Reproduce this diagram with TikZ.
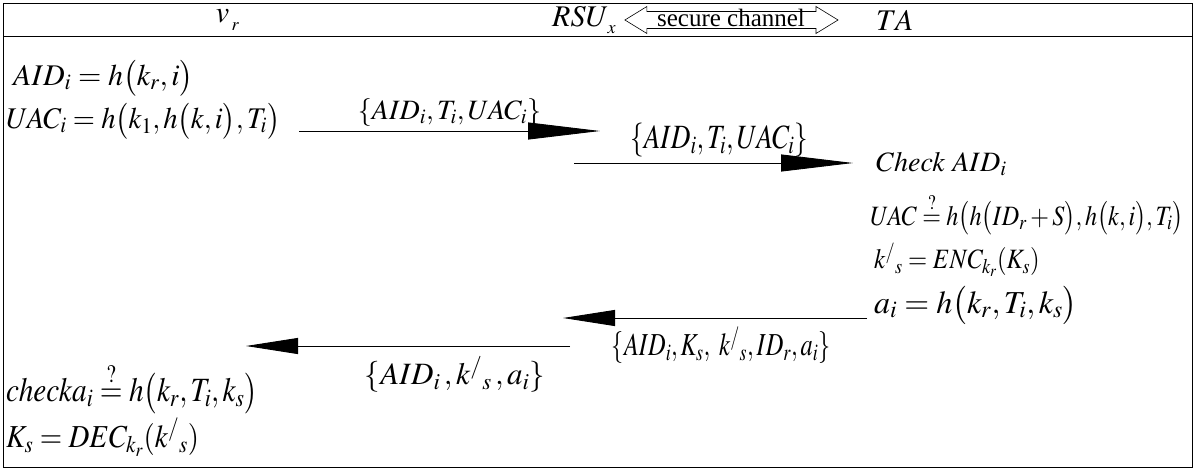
\documentclass[tikz,border=0pt]{standalone}
\usepackage{amsmath}
\usepackage{mathptmx}
\usepackage{fontspec}
\setmainfont{Liberation Serif}
\usetikzlibrary{arrows.meta}
\newcommand{\slim}[2][0.82]{\scalebox{#1}[1]{#2}}
\tikzset{%
  frame/.style = {draw, line width=0.8pt},
  party/.style = {inner sep=0pt, font=\fontsize{30}{34}\selectfont},
  formula/.style = {inner sep=0pt, anchor=west, font=\fontsize{30}{34}\selectfont},
  msglabel/.style = {inner sep=0pt, font=\fontsize{28}{32}\selectfont},
  msg/.style = {draw, line width=0.9pt, -{Triangle[length=72pt,width=17pt]}},
  reply/.style = {draw, line width=0.9pt, -{Triangle[length=52pt,width=16pt]}}
}

\begin{document}
\begin{tikzpicture}[x=1pt,y=-1pt]
  \useasboundingbox (0,0) rectangle (1198,470);
  % frame and header
  \draw[frame] (3,3) rectangle (1192,467);
  \draw[frame] (3,36) -- (1192,36);
  \node[party] (vr) at (228,20) {$v_{\,_r}$};
  \node[party, anchor=west] (rsu) at (552,20) {$RSU_{\,_x}$};
  \node[party, anchor=west] (ta) at (876,20) {$TA$};
  \coordinate (scl) at ([xshift=8pt]rsu.east);
  \coordinate (scr) at ([xshift=-38pt]ta.west);
  \node[inner sep=0pt, font=\fontsize{25}{28}\selectfont] (sc) at (731,18) {secure channel};
  \draw[line width=0.6pt] (scl) -- ++(22,-13.5) -- ++(0,5)
    -- ([xshift=-22pt,yshift=8.5pt]scr) -- ++(0,-5) -- (scr) -- ++(-22,13.5) -- ++(0,-5)
    -- ([xshift=22pt,yshift=-8.5pt]scl) -- ++(0,5) -- cycle;

  % vehicle
  \node[formula] (aid) at (13,78) {$AID_i = h\bigl(k_r, i\bigr)$};
  \node[formula] (uac) at (6,121) {\slim[0.95]{$UAC_i = h\bigl(k_1, h\bigl(k, i\bigr), T_i\bigr)$}};

  % first message
  \coordinate (m1s) at (299,131);
  \coordinate (m1e) at (600,131);
  \draw[msg] (m1s) -- (m1e)
    node[msglabel, pos=0.5, above=4pt] (m1l) {$\{AID_i, T_i, UAC_i\}$};

  % forwarded to TA
  \coordinate (m2s) at (574,163);
  \coordinate (m2e) at (853,163);
  \draw[msg] (m2s) -- (m2e)
    node[msglabel, pos=0.52, above=6pt] (m2l) {\slim[0.8]{\fontsize{34}{38}\selectfont$\{AID_i, T_i, UAC_i\}$}};

  % trusted authority
  \node[formula, font=\fontsize{28}{32}\selectfont] (chk) at (876,164) {$Check\ AID_i$};
  \node[formula, font=\fontsize{28}{32}\selectfont] (vuac) at (870,214) {\slim[0.86]{$UAC \overset{?}{=} h\bigl(h\bigl(ID_r + S\bigr), h\bigl(k, i\bigr), T_i\bigr)$}};
  \node[formula, font=\fontsize{28}{32}\selectfont] (enc) at (874,260) {\slim[0.88]{$k^{/}{}_{s} = ENC_{k_r}(K_s)$}};
  \node[formula, font=\fontsize{32}{36}\selectfont] (ai) at (874,305) {$a_i = h\bigl(k_r, T_i, k_s\bigr)$};

  % reply to RSU
  \coordinate (m3s) at (867,318);
  \coordinate (m3e) at (563,318);
  \draw[reply] (m3s) -- (m3e)
    node[msglabel, pos=0.48, below=8pt] (m3l) {\slim[0.76]{\fontsize{32}{36}\selectfont$\{AID_i, K_s,\ k^{/}{}_{s}, ID_r, a_i\}$}};

  % reply to vehicle
  \coordinate (m4s) at (570,346);
  \coordinate (m4e) at (246,346);
  \draw[reply] (m4s) -- (m4e)
    node[msglabel, pos=0.355, below=10pt] (m4l) {\fontsize{31}{34}\selectfont$\{AID_i\,, k^{/}{}_{s}\,, a_i\}$};

  % vehicle checks
  \node[formula] (chka) at (6,388) {\slim[0.86]{\fontsize{34}{38}\selectfont$checka_i \overset{?}{=} h\bigl(k_r, T_i, k_s\bigr)$}};
  \node[formula] (dec) at (6,437) {\slim[0.9]{\fontsize{32}{36}\selectfont$K_s = DEC_{k_r}(k^{/}{}_{s})$}};
\end{tikzpicture}
\end{document}
